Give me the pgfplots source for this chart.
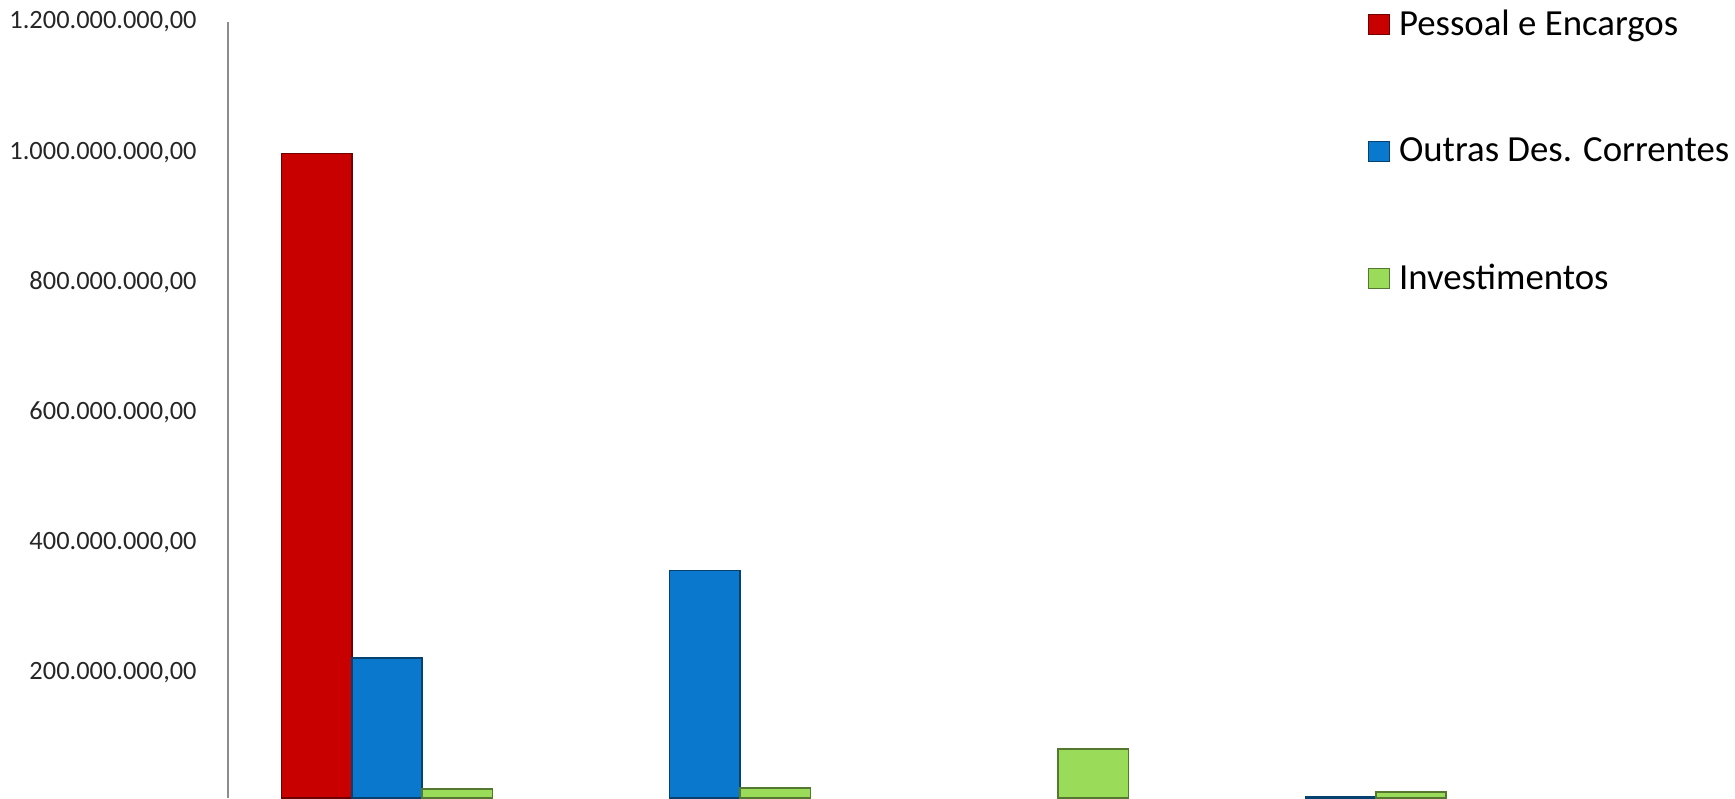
\documentclass[border=0pt]{standalone}
\usepackage{fontspec}
\setmainfont{Carlito}
\usepackage{pgfplots}
\pgfplotsset{compat=1.18}
\definecolor{cRed}{HTML}{C80000}
\definecolor{cBlue}{HTML}{0A78CC}
\definecolor{cGreen}{HTML}{9BDB5A}
\begin{document}
\begin{tikzpicture}
\begin{axis}[
  width=635.8pt, height=388pt, scale only axis,
  ymin=7.7e6, ymax=1.2e9, xmin=-0.5, xmax=3.5,
  ybar=0pt, bar width=35.2pt,
  axis x line=none, axis y line*=left,
  y axis line style={draw=black!45, line width=1pt, -},
  ytick={200e6,400e6,600e6,800e6,1000e6,1200e6},
  yticklabels={{200.000.000,00},{400.000.000,00},{600.000.000,00},{800.000.000,00},{1.000.000.000,00},{1.200.000.000,00}},
  scaled y ticks=false,
  ytick style={draw=none}, major tick length=0pt,
  yticklabel style={font=\fontsize{13.2}{15}\selectfont, inner sep=0pt, xshift=-15.5pt, anchor=east, text=black!85},
  xtick=\empty,
  legend style={draw=none, fill=none, at={(0.896,1)}, anchor=north west, yshift=8pt,
    font=\fontsize{18.4}{20}\selectfont, row sep=45.5pt, inner sep=0pt,
    legend cell align=left},
  legend image code/.code={\draw[#1, line width=0.5pt] (0pt,-5pt) rectangle (10.5pt,5pt); \path (13pt,0pt);},
]
\addplot[fill=cRed, draw=cRed!55!black, line width=0.8pt] coordinates {(0,998e6)};
\addplot[fill=cBlue, draw=cBlue!55!black, line width=0.8pt] coordinates {(0,223e6) (1,357e6) (3,9e6)};
\addplot[fill=cGreen, draw=cGreen!55!black, line width=0.8pt] coordinates {(0,21.5e6) (1,23e6) (2,83e6) (3,17e6)};
\legend{Pessoal e Encargos, Outras Des. Correntes, Investimentos}
\coordinate (tl) at (rel axis cs:0,1);
\coordinate (br) at (rel axis cs:1,0);
\end{axis}
\pgfresetboundingbox
\path (tl) ++(-114pt,11pt) rectangle ([xshift=117.7pt]br);
\end{tikzpicture}
\end{document}
